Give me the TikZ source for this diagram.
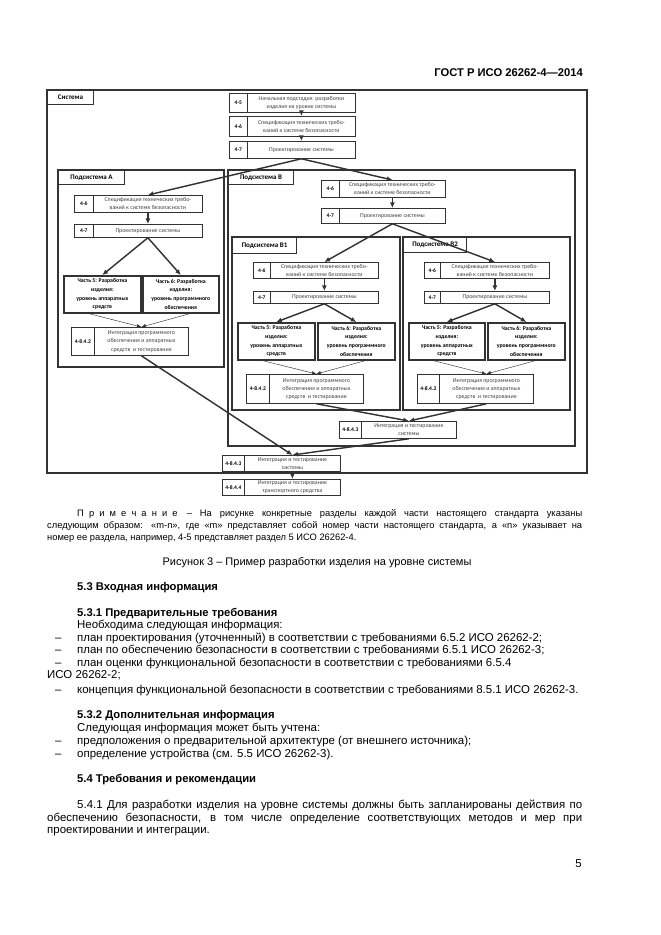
\documentclass[tikz,border=0pt]{standalone}
\usepackage{fontspec}
\setmainfont{Liberation Sans}
\newfontfamily\diafont{Carlito}
\usetikzlibrary{arrows.meta,positioning}
\definecolor{linegray}{gray}{0.2}
\definecolor{textgray}{gray}{0.25}
\tikzset{blockline/.style={draw=linegray, line width=1pt}}
\tikzset{blocklabel/.style={draw=linegray, line width=1pt, anchor=north west, inner sep=0pt, font=\diafont\bfseries\fontsize{6.3}{7}\selectfont}}
\tikzset{numcell/.style={draw=linegray, line width=0.7pt, anchor=north west, inner sep=0pt, font=\diafont\bfseries\fontsize{5}{6}\selectfont}}
\tikzset{txtcell/.style={draw=linegray, line width=0.7pt, anchor=north west, inner sep=0pt, align=center, text=textgray, font=\diafont\fontsize{5.3}{7.4}\selectfont}}
\tikzset{partbox/.style={draw=linegray, line width=1.5pt, anchor=north west, inner sep=0pt, align=center, font=\diafont\bfseries\fontsize{5.2}{7.8}\selectfont}}
\tikzset{flow/.style={linegray, line width=1.3pt, -{Latex[length=5pt,width=4.5pt]}}}
\tikzset{thinflow/.style={linegray, line width=0.4pt, -{Latex[length=4pt,width=3.5pt]}}}
\tikzset{bodytext/.style={anchor=base west, inner sep=0pt, font=\fontsize{10.3}{12}\selectfont}}
\tikzset{notetext/.style={anchor=base west, inner sep=0pt, font=\fontsize{8.4}{10}\selectfont}}
\tikzset{secthead/.style={anchor=base west, inner sep=0pt, font=\bfseries\fontsize{10.1}{12}\selectfont}}
% two-cell box: name, x1, y1, x divider, x2, y2, number, text
\newcommand{\procbox}[8]{%
  \node[numcell, minimum width={(#4-#2)*0.9pt}, minimum height={(#6-#3)*0.9pt}] (#1n) at (#2,#3) {#7};
  \node[txtcell, minimum width={(#5-#4)*0.9pt}, minimum height={(#6-#3)*0.9pt}] (#1) at (#4,#3) {#8};%
}
\newcommand{\partnode}[6]{%
  \node[partbox, minimum width={(#4-#2)*0.9pt}, minimum height={(#5-#3)*0.9pt}] (#1) at (#2,#3) {#6};%
}
% frame with its title: name, x1, y1, x2, y2, title x2, title y2, title
\newcommand{\sysblock}[8]{%
  \draw[blockline] (#2,#3) rectangle (#4,#5);
  \node[blocklabel, minimum width={(#6-#2)*0.9pt}, minimum height={(#7-#3)*0.9pt}] (#1) at (#2,#3) {#8};%
}
\newcommand{\hwpart}{Часть 5: Разработка\\изделия:\\уровень аппаратных\\средств}
\newcommand{\swpart}{Часть 6: Разработка\\изделия:\\уровень программного\\обеспечения}
\newcommand{\spectxt}{Спецификация технических требо-\\ваний к системе безопасности}
\newcommand{\integtxt}{Интеграция программного\\обеспечения и аппаратных\\средств \ и тестирование}
\newcommand{\ls}{\hspace{4.6pt}}

\begin{document}
\begin{tikzpicture}[x=0.9pt,y=-0.9pt]
  \useasboundingbox (0,0) rectangle (661,935);
  \node[secthead, anchor=base east] (gost) at (583,76) {ГОСТ Р ИСО 26262-4—2014};

  %Frames
  \sysblock{sys}{47}{90}{587}{473}{93}{104}{Система}
  \sysblock{suba}{58}{170}{224}{367}{124}{184}{Подсистема А}
  \sysblock{subb}{228}{170}{575}{446}{293}{184}{Подсистема В}
  \sysblock{subba}{232}{237}{400}{410}{296}{253}{Подсистема В1}
  \sysblock{subbb}{403}{237}{570}{410}{466}{252}{Подсистема В2}

  %System level
  \procbox{t45}{229}{93}{247}{355}{112}{4-5}{Начальная подстадия \ разработки\\изделия на уровне системы}
  \procbox{t46}{229}{116}{247}{355}{136}{4-6}{\spectxt}
  \procbox{t47}{229}{141}{247}{355}{158}{4-7}{Проектирование системы}
  \procbox{s483}{222}{455}{244}{340}{471}{4-8.4.3}{Интеграция и тестирование\\системы}
  \procbox{s484}{222}{479}{244}{340}{495}{4-8.4.4}{Интеграция и тестирование\\транспортного средства}

  %Subsystem A
  \procbox{a46}{74}{195}{93}{202}{212}{4-6}{\spectxt}
  \procbox{a47}{74}{224}{93}{202}{237}{4-7}{Проектирование системы}
  \partnode{a5}{63}{275}{140}{312}{\hwpart}
  \partnode{a6}{142}{275}{218}{312}{\swpart}
  \procbox{a482}{71}{327}{94}{188}{355}{4-8.4.2}{\integtxt}

  %Subsystem B
  \procbox{b46}{321}{180}{339}{445}{197}{4-6}{\spectxt}
  \procbox{b47}{321}{208}{339}{445}{223}{4-7}{Проектирование системы}
  \procbox{ba46}{253}{262}{270}{378}{278}{4-6}{\spectxt}
  \procbox{ba47}{253}{291}{270}{378}{303}{4-7}{Проектирование системы}
  \partnode{ba5}{237}{322}{314}{359}{\hwpart}
  \partnode{ba6}{317}{322}{394}{359}{\swpart}
  \procbox{ba482}{246}{374}{269}{363}{403}{4-8.4.2}{\integtxt}
  \procbox{bb46}{424}{262}{440}{549}{278}{4-6}{\spectxt}
  \procbox{bb47}{424}{291}{440}{549}{303}{4-7}{Проектирование системы}
  \partnode{bb5}{408}{322}{484}{359}{\hwpart}
  \partnode{bb6}{487}{322}{564}{359}{\swpart}
  \procbox{bb482}{417}{374}{439}{533}{403}{4-8.4.2}{\integtxt}
  \procbox{b483}{339}{421}{361}{456}{438}{4-8.4.3}{Интеграция и тестирование\\системы}

  %Arrows
  \draw[flow] (t45.south) -- (t46.north);
  \draw[flow] (t46.south) -- (t47.north);
  \draw[flow] (t47.south) -- (a46.north);
  \draw[flow] (t47.south) -- (b46.north);
  \draw[flow] (b46.south) -- (b47.north);
  \draw[flow] (b47.south) -- (ba46.north);
  \draw[flow] (b47.south) -- (bb46.north);
  \foreach \p in {a,ba,bb} {
    \draw[flow] (\p46.south) -- (\p47.north);
    \draw[flow] (\p47.south) -- (\p5.north);
    \draw[flow] (\p47.south) -- (\p6.north);
    \draw[thinflow] ([xshift=-12pt]\p5.south) -- (\p482.north);
    \draw[thinflow] ([xshift=8pt]\p6.south) -- (\p482.north);
  }
  \draw[flow] (ba482.south) -- (b483.north);
  \draw[flow] (bb482.south) -- (b483.north);
  \draw[flow] (a482.south) -- (s483.north);
  \draw[flow] (b483.south) -- (s483.north);
  \draw[flow] (s483.south) -- (s484.north);

  %Text below
  \node[notetext] (note1) at (77,516) {\makebox[454.5pt][s]{\mbox{П\ls р\ls и\ls м\ls е\ls ч\ls а\ls н\ls и\ls е}\quad – На рисунке конкретные разделы каждой части настоящего стандарта указаны}};
  \node[notetext] (note2) at (47,528) {\makebox[481.5pt][s]{следующим образом: «m-n», где «m» представляет собой номер части настоящего стандарта, а «n» указывает на}};
  \node[notetext] (note3) at (47,540) {номер ее раздела, например, 4-5 представляет раздел 5 ИСО 26262-4.};
  \node[bodytext, anchor=base, font=\fontsize{9.9}{12}\selectfont] (caption) at (317,565) {Рисунок 3 – Пример разработки изделия на уровне системы};
  \node[secthead] (s53) at (77,590) {5.3 Входная информация};
  \node[secthead] (s531) at (77,616) {5.3.1 Предварительные требования};
  \node[bodytext] (p531) at (77,628) {Необходима следующая информация:};
  \foreach \yy/\txt in {641/{план проектирования (уточненный) в соответствии с требованиями 6.5.2 ИСО 26262-2;},
    653/{план по обеспечению безопасности в соответствии с требованиями 6.5.1 ИСО 26262-3;},
    666/{план оценки функциональной безопасности в соответствии с требованиями 6.5.4},
    693/{концепция функциональной безопасности в соответствии с требованиями 8.5.1 ИСО 26262-3.},
    744/{предположения о предварительной архитектуре (от внешнего источника);},
    757/{определение устройства (см. 5.5 ИСО 26262-3).}} {
    \node[bodytext] at (55,\yy) {–};
    \node[bodytext] at (77,\yy) {\txt};
  }
  \node[bodytext] (iso) at (47,678) {ИСО 26262-2;};
  \node[secthead] (s532) at (77,718) {5.3.2 Дополнительная информация};
  \node[bodytext] (p532) at (77,731) {Следующая информация может быть учтена:};
  \node[secthead] (s54) at (77,782) {5.4 Требования и рекомендации};
  \node[bodytext] (p541a) at (77,808) {\makebox[454.5pt][s]{5.4.1 Для разработки изделия на уровне системы должны быть запланированы действия по}};
  \node[bodytext] (p541b) at (47,821) {\makebox[481.5pt][s]{обеспечению безопасности, в том числе определение соответствующих методов и мер при}};
  \node[bodytext] (p541c) at (47,833) {проектировании и интеграции.};
  \node[bodytext, anchor=base east] (page) at (582,867) {5};
\end{tikzpicture}
\end{document}
